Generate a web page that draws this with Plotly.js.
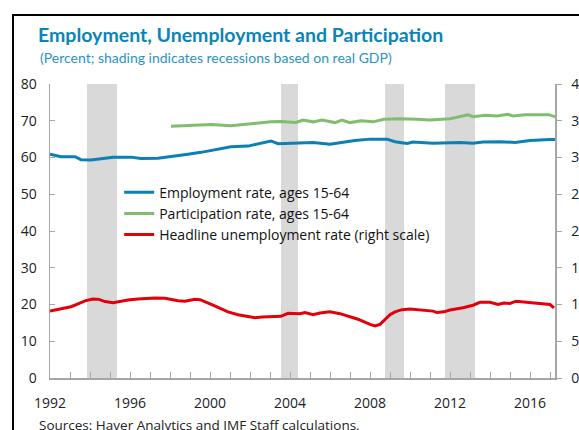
<!DOCTYPE html>
<html>
<head>
<meta charset="utf-8">
<script src="https://cdn.plot.ly/plotly-3.0.1.min.js"></script>
<style>
  html, body { margin: 0; padding: 0; overflow: hidden; background: #fff; width: 579px; height: 430px; }
  #frame { position: absolute; left: 12px; top: 14px; width: 700px; height: 600px; border-left: 2px solid #000; border-top: 2px solid #000; pointer-events: none; z-index: 5; }
  #chart { position: absolute; left: 0; top: 0; }
</style>
</head>
<body>
<div id="chart"></div>
<div id="frame"></div>
<script>
// ---- Data ----
const empYears = [1992.0, 1992.25, 1992.55, 1993.25, 1993.55, 1994.05, 1994.75, 1995.15, 1996.05, 1996.55, 1997.4, 1998.4, 1998.9, 1999.55, 2000.4, 2001.05, 2001.9, 2002.55, 2003.05, 2003.4, 2003.9, 2004.5, 2005.15, 2006.0, 2006.65, 2007.25, 2008.0, 2008.85, 2009.25, 2009.85, 2010.15, 2011.15, 2012.5, 2013.15, 2013.65, 2014.5, 2015.25, 2016.0, 2017.0, 2017.25];
const empRate  = [60.9, 60.6, 60.2, 60.2, 59.4, 59.3, 59.7, 60.05, 60.1, 59.7, 59.8, 60.4, 60.9, 61.4, 62.3, 62.9, 63.1, 63.8, 64.5, 63.75, 63.8, 64.0, 64.1, 63.6, 64.2, 64.6, 65.0, 65.0, 64.3, 63.8, 64.2, 63.9, 64.1, 63.9, 64.2, 64.3, 64.1, 64.6, 64.9, 64.9];

const partYears = [1998.05, 1999.4, 2000.05, 2001.05, 2002.25, 2003.05, 2003.55, 2004.3, 2004.65, 2005.15, 2005.6, 2006.25, 2006.6, 2007.0, 2007.55, 2008.15, 2008.7, 2009.5, 2010.35, 2011.0, 2012.0, 2012.9, 2013.15, 2013.75, 2014.35, 2014.9, 2015.15, 2015.75, 2016.5, 2016.95, 2017.25];
const partRate  = [68.5, 68.9, 69.0, 68.65, 69.3, 69.75, 69.8, 69.55, 70.2, 69.7, 70.2, 69.5, 70.2, 69.5, 70.0, 69.7, 70.4, 70.55, 70.4, 70.2, 70.55, 71.6, 71.1, 71.5, 71.3, 71.75, 71.3, 71.65, 71.6, 71.65, 71.1];

const unempYears = [1992.0, 1992.5, 1993.05, 1993.4, 1993.75, 1994.15, 1994.45, 1994.75, 1995.15, 1995.9, 1996.4, 1997.25, 1997.75, 1998.4, 1998.75, 1999.25, 1999.5, 2000.15, 2000.9, 2001.4, 2001.9, 2002.25, 2002.6, 2003.0, 2003.55, 2003.9, 2004.5, 2004.75, 2005.15, 2005.5, 2006.0, 2006.5, 2007.0, 2007.4, 2008.0, 2008.25, 2008.5, 2008.75, 2009.0, 2009.25, 2009.6, 2010.0, 2010.5, 2011.15, 2011.35, 2011.7, 2012.0, 2012.65, 2013.15, 2013.5, 2014.0, 2014.4, 2014.7, 2015.0, 2015.3, 2015.65, 2016.25, 2016.75, 2017.0, 2017.2];
const unempRate  = [9.1, 9.35, 9.7, 10.1, 10.5, 10.75, 10.7, 10.4, 10.25, 10.6, 10.75, 10.9, 10.85, 10.5, 10.45, 10.7, 10.65, 9.9, 9.0, 8.6, 8.35, 8.2, 8.3, 8.35, 8.4, 8.8, 8.75, 8.9, 8.6, 8.85, 9.0, 8.75, 8.35, 8.0, 7.3, 7.07, 7.3, 7.9, 8.6, 9.0, 9.3, 9.4, 9.25, 9.1, 8.9, 9.0, 9.25, 9.55, 9.9, 10.3, 10.3, 10.0, 10.2, 10.15, 10.45, 10.35, 10.2, 10.0, 10.0, 9.55];

const recessionStart = [1993.85, 2003.55, 2008.75, 2011.75];
const recessionEnd   = [1995.35, 2004.4, 2009.7, 2013.25];

const seriesNames = ["Employment rate, ages 15-64", "Participation rate, ages 15-64", "Headline unemployment rate (right scale)"];
const titleText = "Employment, Unemployment and Participation";
const subtitleText = "(Percent; shading indicates recessions based on real GDP)";
const sourceText = "Sources: Haver Analytics and IMF Staff calculations.";

// ---- Chart ----
const font = "'Open Sans', 'Noto Sans', sans-serif";
const titleFont = "Lato, 'Open Sans', sans-serif";
const traces = [
  { x: empYears, y: empRate, name: seriesNames[0], type: "scatter", mode: "lines",
    line: { color: "#0b80b6", width: 3 } },
  { x: partYears, y: partRate, name: seriesNames[1], type: "scatter", mode: "lines",
    line: { color: "#80bd6f", width: 3 } },
  { x: unempYears, y: unempRate, name: seriesNames[2], type: "scatter", mode: "lines", yaxis: "y2",
    line: { color: "#e3000b", width: 3 } }
];

const shapes = recessionStart.map((s, i) => ({
  type: "rect", xref: "x", yref: "paper", x0: s, x1: recessionEnd[i], y0: 0, y1: 1,
  fillcolor: "#d9d9d9", line: { width: 0 }, layer: "below"
}));

const layout = {
  width: 600, height: 430,
  margin: { l: 50, r: 45, t: 84, b: 52 },
  paper_bgcolor: "#fff", plot_bgcolor: "rgba(0,0,0,0)",
  font: { family: font, size: 14, color: "#222" },
  showlegend: true,
  legend: { x: 0.137, y: 0.685, xanchor: "left", yanchor: "top", bgcolor: "rgba(0,0,0,0)",
            font: { size: 14, color: "#111" }, tracegroupgap: 0, itemwidth: 30 },
  title: { text: "<b>" + titleText + "</b>", xref: "container", yref: "container",
           x: 38 / 600, xanchor: "left", y: 1 - 35 / 430, yanchor: "middle",
           font: { family: titleFont, size: 19.5, color: "#0a85b6" } },
  xaxis: {
    range: [1992, 2017.25], tickmode: "linear", tick0: 1992, dtick: 4,
    ticks: "inside", ticklen: 6, tickcolor: "#a6a6a6",
    minor: { dtick: 1, tick0: 1992, ticks: "inside", ticklen: 6, tickcolor: "#a6a6a6" },
    showline: true, linecolor: "#a6a6a6", linewidth: 1.5, showgrid: false, zeroline: false,
    tickfont: { size: 14, color: "#222" }, ticklabelstandoff: 12
  },
  yaxis: {
    range: [0, 80], dtick: 10, tick0: 0, ticks: "inside", ticklen: 5, tickcolor: "#a6a6a6",
    showline: true, linecolor: "#a6a6a6", linewidth: 1.5, showgrid: false, zeroline: false,
    tickfont: { size: 14, color: "#222" }, ticklabelstandoff: 9
  },
  yaxis2: {
    range: [0, 40], dtick: 5, tick0: 0, overlaying: "y", side: "right",
    ticks: "outside", ticklen: 5, tickcolor: "#a6a6a6",
    showline: true, linecolor: "#a6a6a6", linewidth: 1.5, showgrid: false, zeroline: false,
    tickfont: { size: 14, color: "#222" }, ticklabelstandoff: 7
  },
  shapes: shapes,
  annotations: [
    { text: subtitleText, xref: "paper", yref: "paper", x: (38 - 50) / 505, y: (378 - 57) / 294,
      xanchor: "left", yanchor: "middle", showarrow: false,
      font: { family: titleFont, size: 14, color: "#2a93c6" } },
    { text: sourceText, xref: "paper", yref: "paper", x: (37 - 50) / 505, y: (378 - 425) / 294,
      xanchor: "left", yanchor: "middle", showarrow: false,
      font: { family: font, size: 13.5, color: "#222" } }
  ]
};

Plotly.newPlot("chart", traces, layout, { displayModeBar: false, staticPlot: true });
</script>
</body>
</html>
